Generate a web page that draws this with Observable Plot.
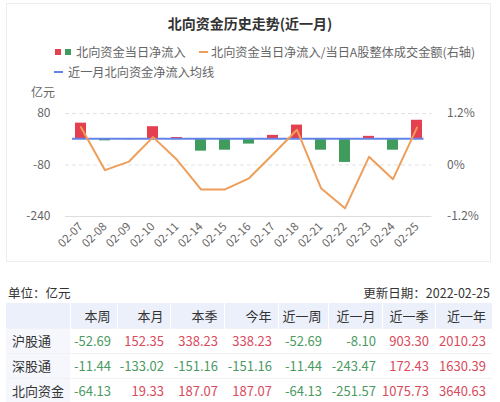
<!DOCTYPE html>
<html><head><meta charset="utf-8">
<script src="https://cdn.jsdelivr.net/npm/d3@7"></script>
<script src="https://cdn.jsdelivr.net/npm/@observablehq/plot@0.6"></script>
<style>
html,body{margin:0;padding:0;background:#fff;width:500px;height:402px;overflow:hidden;font-family:"Noto Sans CJK SC","Noto Sans",sans-serif;}
#card{position:absolute;left:6px;top:3px;width:485px;height:259px;border:1px solid #ececec;box-sizing:border-box;}
#title{position:absolute;left:0;top:14px;width:500px;text-align:center;font-size:14px;font-weight:bold;color:#333;line-height:18px;}
.leg{position:absolute;font-size:12.2px;color:#666;white-space:nowrap;line-height:14px;}
.sw{position:absolute;}
#unitTop{position:absolute;left:31px;top:83px;font-size:12px;color:#666;}
#chart{position:absolute;left:0;top:82px;}
#unit{position:absolute;left:8px;top:283px;font-size:12.5px;color:#333;}
#upd{position:absolute;right:10px;top:283px;font-size:12.5px;color:#333;}
table{position:absolute;left:6px;top:303px;border-collapse:collapse;font-size:13px;table-layout:fixed;}
td,th{height:25px;padding:0 6px 0 0;text-align:right;white-space:nowrap;box-sizing:border-box;}
th{background:#ebf0fb;color:#333;font-weight:normal;border-left:1px solid #fff;}
td{border-top:1px solid #f0f2f7;}
td.nm{text-align:left;padding-left:6px;background:#f5f7fd;color:#333;}
.up{color:#d94a5c;}
.dn{color:#4b9a62;}
</style></head>
<body>
<div id="card"></div>
<div id="title">北向资金历史走势(近一月)</div>
<div class="sw" style="left:55px;top:49px;width:6px;height:6px;background:#e4404f;"></div>
<div class="sw" style="left:65px;top:49px;width:6px;height:6px;background:#3f9c5c;"></div>
<div class="leg" style="left:76px;top:45px;">北向资金当日净流入</div>
<div class="sw" style="left:199px;top:51px;width:9px;height:2px;background:#ef9e5a;"></div>
<div class="leg" style="left:211px;top:45px;">北向资金当日净流入/当日A股整体成交金额(右轴)</div>
<div class="sw" style="left:54px;top:71px;width:9px;height:2px;background:#6384e6;"></div>
<div class="leg" style="left:68px;top:65px;">近一月北向资金净流入均线</div>
<div id="chart"></div>
<div id="unitTop">亿元</div>
<div id="unit">单位：亿元</div>
<div id="upd">更新日期：2022-02-25</div>
<div id="tbl"></div>
<script>
// ---- data ----
const dates = ["02-07","02-08","02-09","02-10","02-11","02-14","02-15","02-16","02-17","02-18","02-21","02-22","02-23","02-24","02-25"];
const netInflow = [50, -5, -1.5, 39, 5.5, -37, -34, -15, 12, 44, -34, -72, 9, -34, 59];
const ratioPct = [0.88, -0.12, 0.08, 0.65, 0.12, -0.57, -0.57, -0.31, 0.25, 0.82, -0.54, -1.01, 0.19, -0.33, 0.87];
const monthAvg = 1.29;
const leftTicks = [80, -80, -240];
const rightTickLabels = ["1.2%", "0%", "-1.2%"];
const tableCols = ["本周","本月","本季","今年","近一周","近一月","近一季","近一年"];
const rowNames = ["沪股通","深股通","北向资金"];
const shValues = [-52.69,152.35,338.23,338.23,-52.69,-8.10,903.30,2010.23];
const szValues = [-11.44,-133.02,-151.16,-151.16,-11.44,-243.47,172.43,1630.39];
const nbValues = [-64.13,19.33,187.07,187.07,-64.13,-251.57,1075.73,3640.63];

// secondary axis: percent -> left-axis units
const pctToLeft = d3.scaleLinear().domain([-1.2, 1.2]).range([-240, 80]);

const bars = dates.map((d, i) => ({date: d, value: netInflow[i]}));
const ratio = dates.map((d, i) => ({date: d, pct: ratioPct[i]}));
const rightTicks = leftTicks.map((v, i) => ({v, label: rightTickLabels[i]}));

const font = '"Noto Sans CJK SC","Noto Sans",sans-serif';
const chart = Plot.plot({
  width: 500, height: 180,
  marginLeft: 65, marginRight: 68.5, marginTop: 31, marginBottom: 46,
  style: {fontFamily: font, fontSize: "11.5px", color: "#666", background: "transparent", overflow: "visible"},
  x: {domain: dates, paddingInner: 0.56, paddingOuter: 0.28, align: 0.5, tickRotate: -45, tickSize: 0, tickPadding: 8, label: null},
  y: {domain: [-240, 80], axis: null},
  marks: [
    Plot.ruleY([80, -80], {stroke: "#e2e2e2", strokeDasharray: "4,3"}),
    Plot.ruleY([-240], {stroke: "#dddddd"}),
    Plot.barY(bars, {x: "date", y: "value", fill: d => d.value >= 0 ? "#e4404f" : "#3f9c5c"}),
    Plot.ruleY([monthAvg], {stroke: "#6384e6", strokeWidth: 2, insetLeft: 7, insetRight: 8}),
    Plot.line(ratio, {x: "date", y: d => pctToLeft(d.pct), stroke: "#ef9e5a", strokeWidth: 2}),
    Plot.text(leftTicks, {y: d => d, text: d => String(d), frameAnchor: "left", dx: -15, textAnchor: "end", fontSize: 12, fill: "#666"}),
    Plot.text(rightTicks, {y: "v", text: "label", frameAnchor: "right", dx: 15, textAnchor: "start", fontSize: 12, fill: "#666"})
  ]
});
document.getElementById("chart").appendChild(chart);

// ---- table ----
const widths = [62, 47, 53, 54, 54, 50, 54, 53, 57];
const fmt = v => v.toFixed(2);
let html = "<table><colgroup>" + widths.map(w => `<col style="width:${w}px">`).join("") + "</colgroup>";
html += "<tr><th style='border-left:none'></th>" + tableCols.map(c => `<th>${c}</th>`).join("") + "</tr>";
[shValues, szValues, nbValues].forEach((vals, r) => {
  html += `<tr><td class="nm">${rowNames[r]}</td>` + vals.map(v => `<td class="${v >= 0 ? "up" : "dn"}">${fmt(v)}</td>`).join("") + "</tr>";
});
html += "</table>";
document.getElementById("tbl").innerHTML = html;
</script>
</body></html>
